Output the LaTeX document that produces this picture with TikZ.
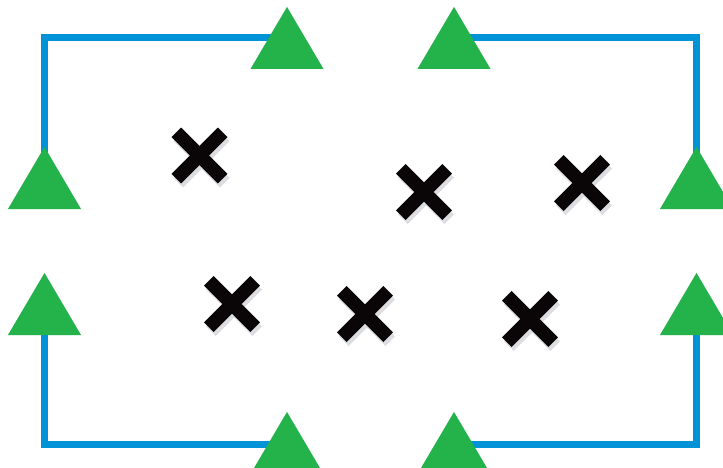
\documentclass[tikz,border=0pt]{standalone}
\definecolor{lineblue}{HTML}{0093D8}
\definecolor{trigreen}{HTML}{24B24B}
\definecolor{shadegray}{HTML}{DCDDE0}
\definecolor{xblack}{HTML}{0A0506}
\tikzset{
  bracket/.style={line width=7pt, line join=miter, line cap=butt},
  crossmark/.style={line width=13.5pt, line cap=butt},
}
\begin{document}
\begin{tikzpicture}[x=1pt,y=-1pt]
\useasboundingbox (0,0) rectangle (723,468);
\clip (0,0) rectangle (723,468);
% triangle apexes
\coordinate (T1) at (287,7);
\coordinate (T2) at (454,7);
\coordinate (L1) at (44.5,147);
\coordinate (R1) at (696.5,147);
\coordinate (L2) at (44.5,273);
\coordinate (R2) at (696.5,273);
\coordinate (B1) at (287,412);
\coordinate (B2) at (454,412);
% bracket corners / ends
\coordinate (cTL) at (44.5,37.5);
\coordinate (cTR) at (696.5,37.5);
\coordinate (cBL) at (44.5,444.5);
\coordinate (cBR) at (696.5,444.5);
\coordinate (eT1) at (287,37.5);
\coordinate (eT2) at (454,37.5);
\coordinate (eB1) at (287,444.5);
\coordinate (eB2) at (454,444.5);
\coordinate (eL1) at (44.5,185);
\coordinate (eR1) at (696.5,185);
\coordinate (eL2) at (44.5,300);
\coordinate (eR2) at (696.5,300);
% shadows
\begin{scope}[shift={(2,4)}, shadegray]
  \draw[bracket] (eL1) -- (cTL) -- (eT1);
  \draw[bracket] (eT2) -- (cTR) -- (eR1);
  \draw[bracket] (eL2) -- (cBL) -- (eB1);
  \draw[bracket] (eB2) -- (cBR) -- (eR2);
  \foreach \p in {T1,T2,L1,R1,L2,R2,B1,B2}
    \fill (\p) -- ++(-36.5,62) -- ++(73,0) -- cycle;
  \foreach \c in {(199.5,155.5),(424,192),(582,183),(232,304),(365,314),(530,319)} {
    \draw[crossmark] \c ++(-23.2,-23.2) -- ++(46.4,46.4);
    \draw[crossmark] \c ++(23.2,-23.2) -- ++(-46.4,46.4);
  }
\end{scope}
% blue brackets
\begin{scope}[lineblue]
  \draw[bracket] (eL1) -- (cTL) -- (eT1);
  \draw[bracket] (eT2) -- (cTR) -- (eR1);
  \draw[bracket] (eL2) -- (cBL) -- (eB1);
  \draw[bracket] (eB2) -- (cBR) -- (eR2);
\end{scope}
% green triangles
\foreach \p in {T1,T2,L1,R1,L2,R2,B1,B2}
  \fill[trigreen] (\p) -- ++(-36.5,62) -- ++(73,0) -- cycle;
% crosses
\foreach \c in {(199.5,155.5),(424,192),(582,183),(232,304),(365,314),(530,319)} {
  \draw[crossmark, xblack] \c ++(-23.2,-23.2) -- ++(46.4,46.4);
  \draw[crossmark, xblack] \c ++(23.2,-23.2) -- ++(-46.4,46.4);
}
\end{tikzpicture}
\end{document}
